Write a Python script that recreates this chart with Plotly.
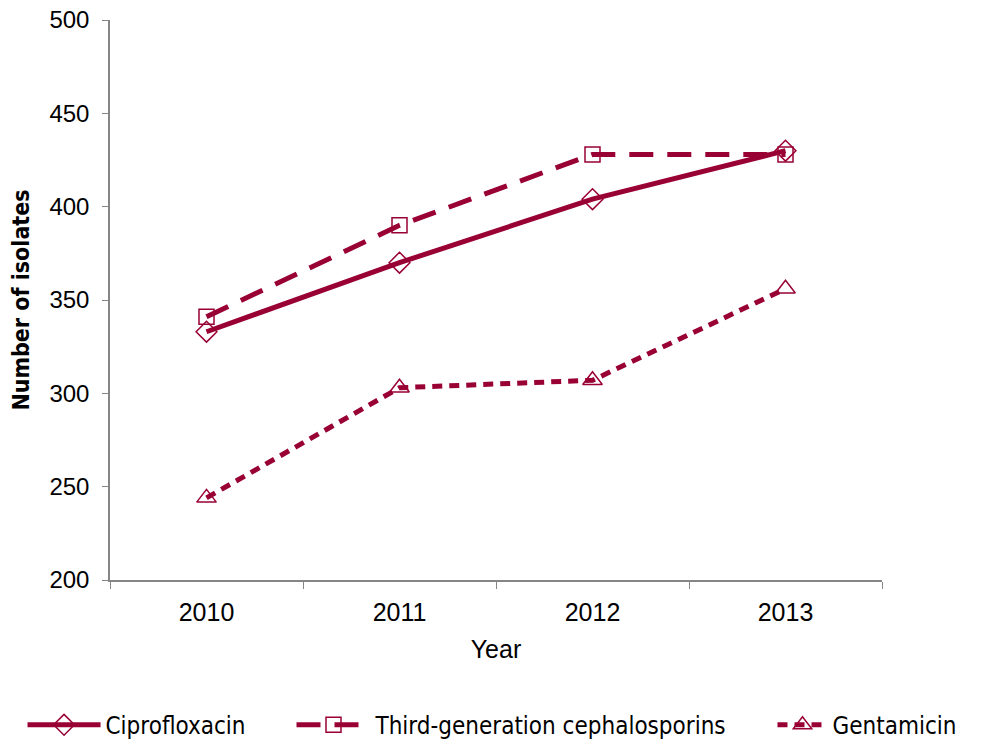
import plotly.graph_objects as go

years = ['2010', '2011', '2012', '2013']
cipro = [333, 370, 404, 430]
cephalo = [341, 390, 428, 428]
genta = [244, 303, 307, 356]

color = '#990033'
narrow = 'DejaVu Sans Condensed, Liberation Sans Narrow, sans-serif'

fig = go.Figure()

fig.add_trace(go.Scatter(
    x=years, y=cipro, name='Ciprofloxacin', mode='lines+markers',
    line=dict(color=color, width=5), legend='legend',
    marker=dict(symbol='diamond-open', size=16, color=color, line=dict(width=1.5)),
))
fig.add_trace(go.Scatter(
    x=years, y=cephalo, name='Third-generation cephalosporins', mode='lines+markers',
    line=dict(color=color, width=5, dash='24px,14px'), legend='legend2',
    marker=dict(symbol='square-open', size=15, color=color, line=dict(width=1.5)),
))
fig.add_trace(go.Scatter(
    x=years, y=genta, name='Gentamicin', mode='lines+markers',
    line=dict(color=color, width=5, dash='10px,7px'), legend='legend3',
    marker=dict(symbol='triangle-up-open', size=17, color=color, line=dict(width=1.5)),
))

# one legend per series so each entry sits where it does in the original
leg = dict(orientation='h', xref='container', yref='container',
           y=0.036, yanchor='middle', xanchor='left',
           font=dict(family=narrow, size=24), bgcolor='rgba(0,0,0,0)')

fig.update_layout(
    width=982, height=744,
    showlegend=True,
    margin=dict(l=102, r=108, t=12, b=172),
    plot_bgcolor='white', paper_bgcolor='white',
    font=dict(family='Liberation Sans, Arial', size=25, color='black'),
    xaxis=dict(
        type='category', range=[-0.5, 3.5], automargin=False,
        showline=True, linecolor='#868686', linewidth=1.5,
        ticks='outside', tickson='boundaries', ticklen=7, tickcolor='#868686',
        ticklabelstandoff=9,
        showgrid=False, zeroline=False,
        title=dict(text='Year', standoff=16, font=dict(size=25)),
        tickfont=dict(size=25),
    ),
    yaxis=dict(
        range=[200, 500], dtick=50, automargin=False,
        showline=True, linecolor='#868686', linewidth=1.5,
        ticks='outside', ticklen=6, tickcolor='#868686', ticklabelstandoff=8,
        ticklabeloverflow='allow',
        showgrid=False, zeroline=False,
        title=dict(text='<b>Number of isolates</b>', standoff=14,
                   font=dict(family=narrow, size=23)),
        tickfont=dict(size=24),
    ),
    legend=dict(leg, x=0.0148, itemwidth=73),
    legend2=dict(leg, x=0.2887, itemwidth=74),
    legend3=dict(leg, x=0.7785, itemwidth=50),
)

fig.write_html('out.html')
